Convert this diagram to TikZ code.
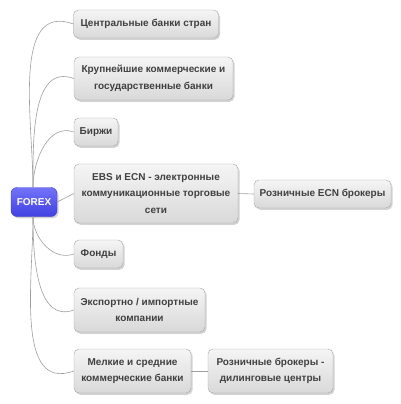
\documentclass[tikz,border=0pt]{standalone}
\usepackage{fontspec}
\setmainfont{Liberation Sans}
\usetikzlibrary{shadows}

\begin{document}
\begin{tikzpicture}[x=1pt, y=-1pt,
	box/.style={draw=gray!70, rounded corners=5pt, top color=gray!8, bottom color=gray!30,
		text=black!75, font=\bfseries\fontsize{10}{16.5}\selectfont, align=center, inner sep=2pt,
		drop shadow={shadow xshift=1.5pt, shadow yshift=-1.8pt, opacity=0.35}},
	root/.style={draw={rgb,255:red,60;green,60;blue,200}, rounded corners=6pt,
		top color={rgb,255:red,115;green,115;blue,250}, bottom color={rgb,255:red,65;green,65;blue,225},
		text=white, font=\bfseries\fontsize{10}{12}\selectfont, minimum width=46pt, minimum height=29pt,
		drop shadow={shadow xshift=1.5pt, shadow yshift=-1.8pt, opacity=0.35}},
	link/.style={draw=gray!75, line width=0.6pt}]
	\useasboundingbox (0,0) rectangle (400,404);

	%Nodene
	\node[root] (forex) at (34,202) {FOREX};
	\node[box, minimum width=145pt, minimum height=28pt] (cb) at (146,24) {Центральные банки стран};
	\node[box, minimum width=159pt, minimum height=43pt] (kb) at (153.5,78.5) {Крупнейшие коммерческие и\\государственные банки};
	\node[box, minimum width=44pt, minimum height=28pt] (bi) at (96,132) {Биржи};
	\node[box, minimum width=164pt, minimum height=59pt] (ebs) at (156,193.5) {EBS и ECN - электронные\\коммуникационные торговые\\сети};
	\node[box, minimum width=137pt, minimum height=28pt] (ecn) at (322.5,194) {Розничные ECN брокеры};
	\node[box, minimum width=49pt, minimum height=28pt] (fo) at (98.5,254) {Фонды};
	\node[box, minimum width=131pt, minimum height=44pt] (ex) at (139.5,310) {Экспортно / импортные\\компании};
	\node[box, minimum width=117pt, minimum height=44pt] (mb) at (132.5,371) {Мелкие и средние\\коммерческие банки};
	\node[box, minimum width=125pt, minimum height=44pt] (dc) at (270.5,371) {Розничные брокеры -\\дилинговые центры};

	%Kantene
	\foreach \t in {cb,kb,bi}
		\draw[link] ([xshift=-1pt]forex.north) to[out=90, in=160] (\t.west);
	\foreach \t in {fo,ex,mb}
		\draw[link] ([xshift=-1pt]forex.south) to[out=-90, in=200] (\t.west);
	\draw[link] (forex.east) -- (ebs.west);
	\draw[link] (ebs.east) -- (ecn.west);
	\draw[link] (mb.east) -- (dc.west);
\end{tikzpicture}
\end{document}
